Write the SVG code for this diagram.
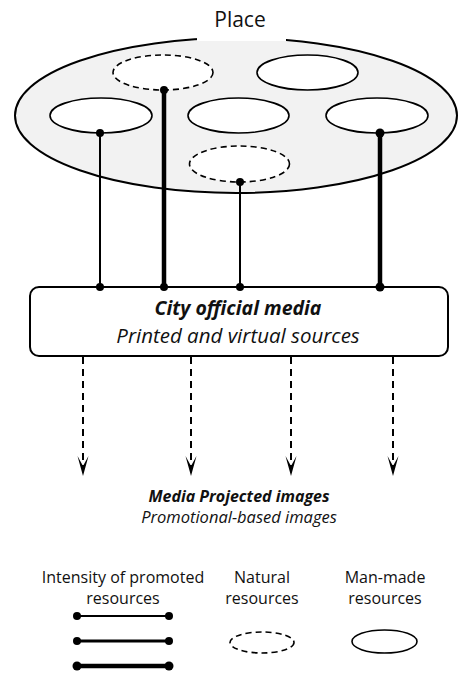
<svg xmlns="http://www.w3.org/2000/svg" width="458" height="674" viewBox="0 0 458 674">
  <style>
    .txt { font-family: "Open Sans", "Liberation Sans", sans-serif; fill: #111; text-anchor: middle; }
    .res { fill: #fff; stroke: #000; stroke-width: 1.6; }
    .nat { stroke-dasharray: 6 4; }
    .link { stroke: #000; fill: none; }
    .thin { stroke-width: 2; }
    .mid { stroke-width: 3; }
    .thick { stroke-width: 4.5; }
    .proj { stroke: #000; stroke-width: 2; stroke-dasharray: 7 5; fill: none; }
    .dot { fill: #000; }
  </style>
  <defs>
    <!-- barbed arrowhead, drawn pointing along +x -->
    <marker id="barb" viewBox="-22 -7 23 14" refX="0" refY="0" markerWidth="23" markerHeight="14" markerUnits="userSpaceOnUse" orient="auto">
      <path d="M0,0 L-20,-5.5 L-10,0 L-20,5.5 Z" fill="#000"/>
    </marker>
  </defs>

  <rect width="458" height="674" fill="#fff"/>

  <!-- Place: outer area with its resources -->
  <g id="place">
    <ellipse cx="236" cy="115.5" rx="221" ry="77.5" fill="#f2f2f2" stroke="#000" stroke-width="2"/>
    <rect x="197" y="30" width="89" height="11" fill="#fff"/>
    <text class="txt" x="240" y="27" font-size="21">Place</text>
  </g>
  <g id="natural-1"><ellipse class="res nat" cx="163" cy="72.5" rx="50" ry="17.5"/></g>
  <g id="manmade-1"><ellipse class="res" cx="307.5" cy="72.5" rx="50.5" ry="17.5"/></g>
  <g id="manmade-2"><ellipse class="res" cx="101" cy="115.5" rx="51" ry="17.5"/></g>
  <g id="manmade-3"><ellipse class="res" cx="238.5" cy="115.5" rx="50.5" ry="17.5"/></g>
  <g id="manmade-4"><ellipse class="res" cx="377" cy="115.5" rx="51" ry="17.5"/></g>
  <g id="natural-2"><ellipse class="res nat" cx="239.5" cy="164" rx="50" ry="18"/></g>

  <!-- City official media box -->
  <g id="media">
    <rect x="30" y="287" width="418" height="69" rx="9" fill="#fff" stroke="#000" stroke-width="2"/>
    <text class="txt" x="238" y="315" font-size="19.5" font-weight="bold" font-style="italic">City official media</text>
    <text class="txt" x="238" y="343" font-size="20.5" font-style="italic">Printed and virtual sources</text>
  </g>

  <!-- Projected images caption -->
  <g id="projected">
    <text class="txt" x="239" y="502" font-size="16" font-weight="bold" font-style="italic">Media Projected images</text>
    <text class="txt" x="239" y="523" font-size="16.5" font-style="italic">Promotional-based images</text>
  </g>

  <!-- Connectors -->
  <g id="connectors">
    <line class="link thin" x1="100" y1="133" x2="100" y2="287"/>
    <circle class="dot" cx="100" cy="133" r="4"/>
    <circle class="dot" cx="100" cy="287" r="4"/>

    <line class="link thick" x1="164" y1="90" x2="164" y2="287"/>
    <circle class="dot" cx="164" cy="90" r="4"/>
    <circle class="dot" cx="164" cy="287" r="4"/>

    <line class="link thin" x1="240" y1="182" x2="240" y2="287"/>
    <circle class="dot" cx="240" cy="182" r="4"/>
    <circle class="dot" cx="240" cy="287" r="4"/>

    <line class="link thick" x1="380" y1="133" x2="380" y2="287"/>
    <circle class="dot" cx="380" cy="133" r="4.5"/>
    <circle class="dot" cx="380" cy="287" r="4.5"/>

    <line class="proj" x1="83" y1="357" x2="83" y2="476" marker-end="url(#barb)"/>
    <line class="proj" x1="191" y1="357" x2="191" y2="476" marker-end="url(#barb)"/>
    <line class="proj" x1="291" y1="357" x2="291" y2="476" marker-end="url(#barb)"/>
    <line class="proj" x1="393" y1="357" x2="393" y2="476" marker-end="url(#barb)"/>
  </g>

  <!-- Legend -->
  <g id="legend-intensity">
    <text class="txt" x="123" y="583" font-size="16">Intensity of promoted</text>
    <text class="txt" x="123" y="604" font-size="16">resources</text>
    <line class="link thin" x1="77" y1="616" x2="169" y2="616"/>
    <circle class="dot" cx="77" cy="616" r="4"/>
    <circle class="dot" cx="169" cy="616" r="4"/>
    <line class="link mid" x1="77" y1="641" x2="169" y2="641"/>
    <circle class="dot" cx="77" cy="641" r="4"/>
    <circle class="dot" cx="169" cy="641" r="4"/>
    <line class="link thick" x1="77" y1="666" x2="169" y2="666"/>
    <circle class="dot" cx="77" cy="666" r="4.5"/>
    <circle class="dot" cx="169" cy="666" r="4.5"/>
  </g>
  <g id="legend-natural">
    <text class="txt" x="262" y="583" font-size="16">Natural</text>
    <text class="txt" x="262" y="604" font-size="16">resources</text>
    <ellipse class="res nat" cx="262" cy="642.5" rx="32" ry="10.5"/>
  </g>
  <g id="legend-manmade">
    <text class="txt" x="385" y="583" font-size="16">Man-made</text>
    <text class="txt" x="385" y="604" font-size="16">resources</text>
    <ellipse class="res" cx="384.5" cy="641.5" rx="32.5" ry="11.5"/>
  </g>
</svg>
